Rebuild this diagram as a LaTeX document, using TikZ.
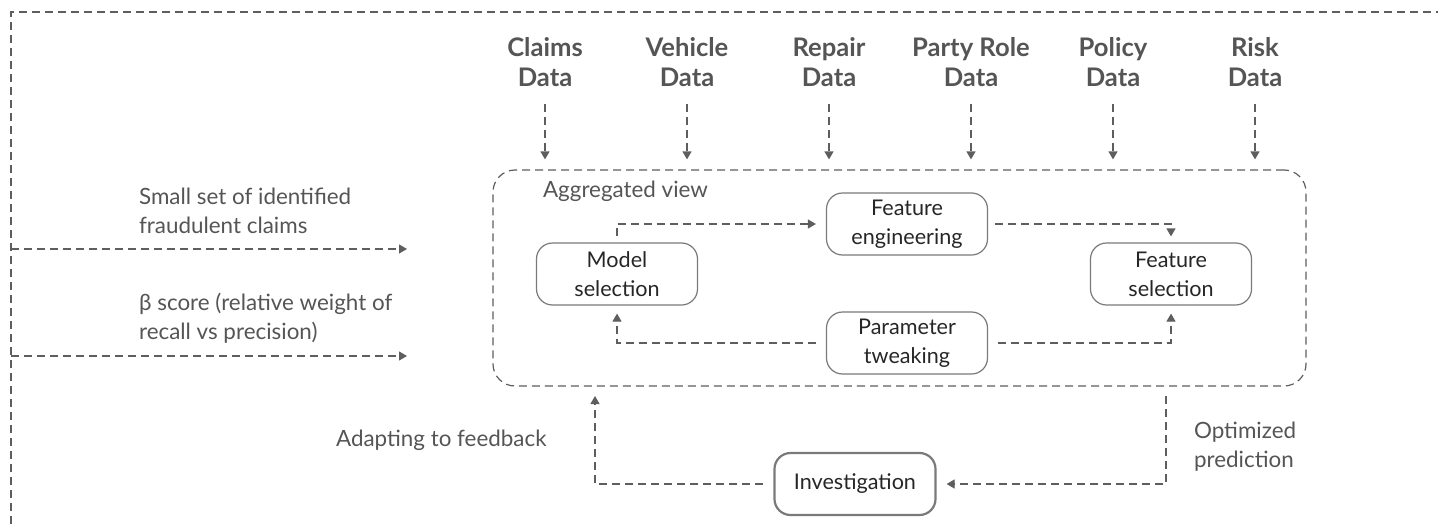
\documentclass[tikz,border=0pt]{standalone}
\usepackage{fontspec}
\setmainfont{Lato}
\usetikzlibrary{arrows.meta,positioning}

\definecolor{linegray}{HTML}{5E5E5E}
\definecolor{notegray}{HTML}{555555}
\definecolor{boxgray}{HTML}{7A7A7A}
\definecolor{textdark}{HTML}{262626}

\tikzset{
        dashline/.style={draw=linegray, line width=0.6pt, dash pattern=on 4pt off 2.5pt},
        flow/.style={dashline, -{Triangle[length=4pt,width=4.5pt]}},
        datalabel/.style={font=\fontsize{12.8}{15}\selectfont\bfseries, text=notegray, align=center},
        note/.style={font=\fontsize{11.2}{14.5}\selectfont, text=notegray, align=left, anchor=west},
        stepbox/.style={draw=boxgray, line width=0.6pt, rounded corners=8pt, minimum width=80.5pt,
                minimum height=31pt, align=center, text=textdark, font=\fontsize{10.8}{14.5}\selectfont},
        aggbox/.style={dashline, rounded corners=11pt, minimum width=406.5pt, minimum height=108pt}
}

\begin{document}
\begin{tikzpicture}[x=0.5pt, y=-0.5pt]
        \useasboundingbox (0, 0) rectangle (1438, 524);
        \draw[dashline] (11, 524) -- (11, 12) -- (1438, 12);

        % sources
        \node[datalabel] (claims) at (545, 62) {Claims\\Data};
        \node[datalabel] (vehicle) at (687, 62) {Vehicle\\Data};
        \node[datalabel] (repair) at (829, 62) {Repair\\Data};
        \node[datalabel] (party) at (971, 62) {Party Role\\Data};
        \node[datalabel] (policy) at (1113, 62) {Policy\\Data};
        \node[datalabel] (risk) at (1255, 62) {Risk\\Data};

        \node[aggbox] (agg) at (899.5, 278) {};
        \node[note, anchor=west] (aggview) at (536, 191) {Aggregated view};

        \node[stepbox] (feateng) at (907, 224) {Feature\\engineering};
        \node[stepbox] (modsel) at (617, 274) {Model\\selection};
        \node[stepbox] (featsel) at (1171, 274) {Feature\\selection};
        \node[stepbox] (param) at (907, 343) {Parameter\\tweaking};
        \node[stepbox, line width=1.1pt] (invest) at (855, 484) {Investigation};

        \foreach \src in {claims, vehicle, repair, party, policy, risk}
                \draw[flow, shorten <=5pt, shorten >=5pt] (\src.south) -- (\src.south |- agg.north);

        \draw[flow, shorten <=3pt, shorten >=5pt] (modsel.north) |- (feateng.west);
        \draw[flow, shorten <=3.5pt, shorten >=3pt] (feateng.east) -| (featsel.north);
        \draw[flow, shorten <=5pt, shorten >=4pt] (param.west) -| (modsel.south);
        \draw[flow, shorten <=5pt, shorten >=4pt] (param.east) -| (featsel.south);

        % inputs from the left
        \coordinate (fraudin) at (11, 249);
        \coordinate (fraudend) at (407, 249);
        \coordinate (betain) at (11, 356);
        \coordinate (betaend) at (407, 356);
        \node[note] (fraudtext) at (132, 211) {Small set of identified\\fraudulent claims};
        \node[note] (betatext) at (132, 318) {β score (relative weight of\\recall vs precision)};
        \draw[flow] (fraudin) -- (fraudend);
        \draw[flow] (betain) -- (betaend);

        % feedback loop
        \coordinate (backup) at (595, 386);
        \coordinate (predout) at (1166, 386);
        \draw[flow, shorten <=5pt, shorten >=5pt] (invest.west) -| (backup);
        \draw[flow, shorten <=5pt, shorten >=5pt] (predout) |- (invest.east);
        \node[note] (adapt) at (329, 440) {Adapting to feedback};
        \node[note] (optpred) at (1187, 447) {Optimized\\prediction};
\end{tikzpicture}
\end{document}
